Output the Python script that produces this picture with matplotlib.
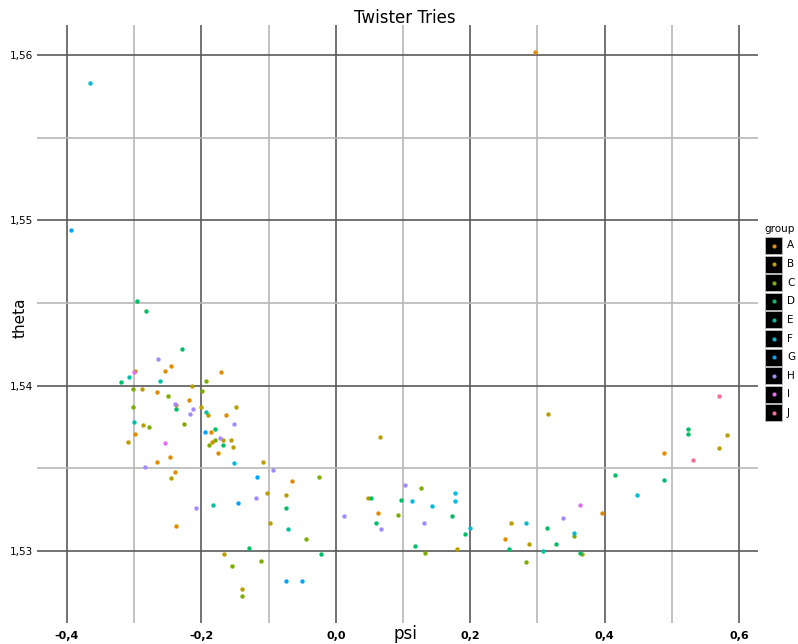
import matplotlib
matplotlib.use('Agg')
import matplotlib.pyplot as plt
from matplotlib.patches import Rectangle
from matplotlib.ticker import FuncFormatter, MultipleLocator

# values, one pair of lists per group
psi_a = [-0.1708, -0.2457, -0.2542, -0.2656, -0.2185, -0.2374, -0.1638,
         -0.1853, -0.2988, -0.1842, -0.1753, -0.2463, -0.2656, -0.2397,
         -0.0656, -0.2382, 0.0624, 0.2522, 0.4884, 0.3957, 0.2964]
theta_a = [1.5408, 1.5412, 1.5409, 1.5396, 1.5391, 1.5388, 1.5382,
           1.5372, 1.5371, 1.5366, 1.5359, 1.5357, 1.5354, 1.5348,
           1.5342, 1.5315, 1.5323, 1.5307, 1.5359, 1.5323, 1.5602]

psi_b = [-0.2984, -0.2144, -0.2888, -0.2001, -0.1481, -0.1906, -0.2869,
         -0.1674, -0.1560, -0.3088, -0.1530, -0.1079, -0.2448, -0.1028,
         -0.0741, -0.0979, -0.1659, -0.1391, 0.0662, 0.3153, 0.0484,
         0.1799, 0.2603, 0.2875, 0.3668, 0.5817, 0.5698]
theta_b = [1.5409, 1.5400, 1.5398, 1.5387, 1.5387, 1.5382, 1.5376,
           1.5367, 1.5367, 1.5366, 1.5363, 1.5354, 1.5344, 1.5335,
           1.5334, 1.5317, 1.5298, 1.5277, 1.5369, 1.5383, 1.5332,
           1.5301, 1.5317, 1.5304, 1.5298, 1.5370, 1.5362]

psi_c = [-0.1932, -0.1991, -0.3022, -0.2493, -0.3022, -0.2780, -0.2263,
         -0.1802, -0.1882, -0.0254, -0.0448, -0.1118, -0.1545, -0.1391,
         0.1272, 0.0921, 0.1332, 0.2826, 0.3549]
theta_c = [1.5403, 1.5397, 1.5398, 1.5394, 1.5387, 1.5375, 1.5377,
           1.5367, 1.5364, 1.5345, 1.5307, 1.5294, 1.5291, 1.5273,
           1.5338, 1.5322, 1.5299, 1.5293, 1.5309]

psi_d = [-0.2963, -0.2829, -0.2289, -0.3196, -0.2378, -0.1802, -0.1679,
         -0.1292, -0.0216, -0.0737, 0.0519, 0.0975, 0.1725, 0.0598,
         0.1918, 0.1179, 0.2577, 0.3143, 0.3277, 0.3638, 0.5241, 0.5241,
         0.4155, 0.4879]
theta_d = [1.5451, 1.5445, 1.5422, 1.5402, 1.5386, 1.5374, 1.5364,
           1.5302, 1.5298, 1.5326, 1.5332, 1.5331, 1.5321, 1.5317,
           1.5310, 1.5303, 1.5301, 1.5314, 1.5304, 1.5299, 1.5374, 1.5371,
           1.5346, 1.5343]

psi_e = [-0.3077, -0.2616, -0.1932, -0.3007, -0.1832, -0.0711, 0.3083]
theta_e = [1.5405, 1.5403, 1.5384, 1.5378, 1.5328, 1.5313, 1.5300]

psi_f = [-0.1515, -0.3662, 0.1138, 0.1778, 0.1778, 0.1427, 0.1993, 0.2835,
         0.4478, 0.3549]
theta_f = [1.5353, 1.5583, 1.5330, 1.5335, 1.5330, 1.5327, 1.5314, 1.5317,
           1.5334, 1.5311]

psi_g = [-0.1951, -0.1177, -0.1455, -0.0737, -0.0503, -0.3940]
theta_g = [1.5372, 1.5345, 1.5329, 1.5282, 1.5282, 1.5494]

psi_h = [-0.2646, -0.2397, -0.2121, -0.2170, -0.1515, -0.1728, -0.2835,
         -0.0939, -0.1192, -0.2085, 0.0126, 0.1034, 0.1308, 0.0677, 0.3376]
theta_h = [1.5416, 1.5389, 1.5386, 1.5383, 1.5377, 1.5368, 1.5351,
           1.5349, 1.5332, 1.5326, 1.5321, 1.5340, 1.5317, 1.5313, 1.5320]

psi_i = [-0.3007, -0.2546, 0.3638]
theta_i = [1.5408, 1.5365, 1.5328]

psi_j = [0.5707, 0.5320]
theta_j = [1.5394, 1.5355]

groups = ['A', 'B', 'C', 'D', 'E', 'F', 'G', 'H', 'I', 'J']
colors = ['#E08B00', '#BA9E00', '#7CAE00', '#00BE67', '#00C1A3',
          '#00BCD8', '#00A5FF', '#A58AFF', '#E76BF3', '#FF6C91']
psi_all = [psi_a, psi_b, psi_c, psi_d, psi_e, psi_f, psi_g, psi_h, psi_i, psi_j]
theta_all = [theta_a, theta_b, theta_c, theta_d, theta_e, theta_f, theta_g,
             theta_h, theta_i, theta_j]

W, H = 798, 644
fig = plt.figure(figsize=(W / 100, H / 100), dpi=100)
ax = fig.add_axes([37 / W, 1 - 623 / H, (758 - 37) / W, (623 - 25) / H])

ax.set_xlim(-0.4446, 0.6283)
ax.set_ylim(1.52564, 1.56181)
for s in ax.spines.values():
    s.set_visible(False)

ax.xaxis.set_major_locator(MultipleLocator(0.2))
ax.xaxis.set_minor_locator(MultipleLocator(0.1))
ax.yaxis.set_major_locator(MultipleLocator(0.01))
ax.yaxis.set_minor_locator(MultipleLocator(0.005))
ax.grid(which='minor', color='#b8b8b8', lw=1.2, zorder=0)
ax.grid(which='major', color='#5a5a5a', lw=1.2, zorder=0)
ax.set_axisbelow(True)

comma = FuncFormatter(lambda v, p: ('%.1f' % v).replace('.', ',').replace('-0,0', '0,0'))
comma_y = FuncFormatter(lambda v, p: ('%.2f' % v).replace('.', ','))
ax.xaxis.set_major_formatter(comma)
ax.yaxis.set_major_formatter(comma_y)
ax.tick_params(which='both', length=0)
ax.tick_params(axis='x', pad=6)
ax.tick_params(axis='y', pad=3)
for lab in ax.get_xticklabels():
    lab.set_family(['Liberation Sans Narrow', 'DejaVu Sans'])
    lab.set_fontweight('bold')
    lab.set_fontsize(8)
for lab in ax.get_yticklabels():
    lab.set_family('DejaVu Sans')
    lab.set_fontsize(7.5)

for g, c, xs, ys in zip(groups, colors, psi_all, theta_all):
    ax.scatter(xs, ys, s=10, color=c, linewidths=0, zorder=3)

fig.text(405 / W, 1 - 18 / H, 'Twister Tries', ha='center', va='center',
         fontsize=12)
fig.text(405 / W, 1 - 634 / H, 'psi', ha='center', va='center', fontsize=12,
         family=['Liberation Sans Narrow', 'DejaVu Sans'])
fig.text(20 / W, 1 - 318 / H, 'theta', ha='center', va='center', fontsize=11,
         rotation=90)

# legend drawn by hand: black key boxes like the reference
lax = fig.add_axes([758 / W, 1 - 430 / H, 40 / W, 210 / H])
lax.set_xlim(758, 798)
lax.set_ylim(430, 220)
lax.axis('off')
lax.text(764, 229, 'group', fontsize=7.5, va='center', ha='left')
for i, (g, c) in enumerate(zip(groups, colors)):
    y0 = 237 + i * 18.6
    lax.add_patch(Rectangle((765, y0), 17, 17, facecolor='black',
                            edgecolor='#bbbbbb', lw=0.6))
    lax.scatter([773.5], [y0 + 8.5], s=9, color=c, linewidths=0, zorder=3)
    lax.text(787, y0 + 8.5, g, fontsize=7.5, va='center', ha='left')

fig.savefig('out.png', dpi=100)
plt.close(fig)
